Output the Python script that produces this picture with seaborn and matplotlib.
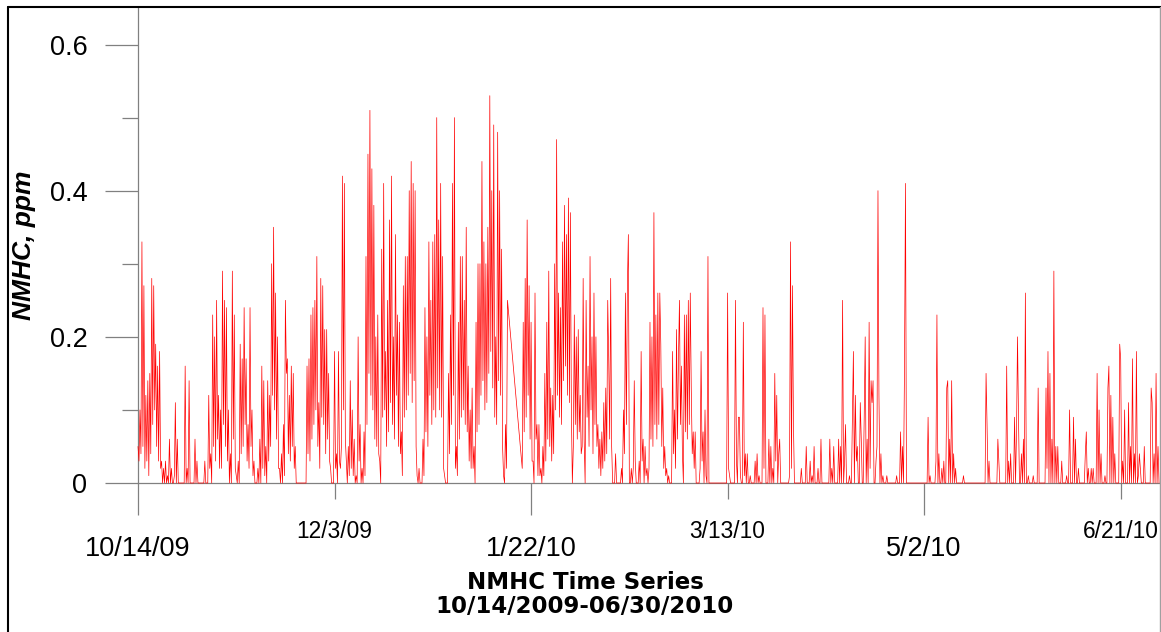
import numpy as np
import pandas as pd
import matplotlib
matplotlib.use("Agg")
import matplotlib.pyplot as plt
from matplotlib.lines import Line2D
import seaborn as sns

# NMHC concentration (ppm) at 6-hour steps, one list per month.
# None marks the stretch without valid readings in late January.
oct_2009 = [
    0.05, 0.03, 0.10, 0.04, 0.33, 0.05, 0.27, 0.02,
    0.12, 0.03, 0.14, 0.01, 0.15, 0.04, 0.28, 0.08,
    0.27, 0.10, 0.19, 0.05, 0.16, 0.03, 0.18, 0.02,
    0.03, 0, 0.02, 0, 0.03, 0, 0.01, 0,
    0.06, 0, 0.02, 0, 0, 0.01, 0.11, 0,
    0.06, 0, 0, 0, 0, 0, 0, 0,
    0.16, 0, 0.02, 0, 0.14, 0, 0, 0,
    0, 0, 0.06, 0, 0.03, 0, 0, 0,
    0, 0, 0, 0, 0.03, 0, 0, 0,
]
nov_2009 = [
    0.12, 0.02, 0.04, 0, 0.23, 0.05, 0.20, 0.03,
    0.25, 0.06, 0.12, 0.02, 0.10, 0.02, 0.29, 0.08,
    0.25, 0.05, 0.24, 0.03, 0.10, 0, 0.04, 0,
    0.29, 0.06, 0.23, 0.02, 0.01, 0, 0.03, 0,
    0.19, 0.04, 0.17, 0.05, 0.24, 0.08, 0.17, 0.03,
    0.08, 0.02, 0.24, 0.05, 0.10, 0.01, 0.03, 0,
    0, 0, 0.02, 0, 0.06, 0, 0.16, 0.02,
    0.14, 0.01, 0.05, 0, 0.14, 0.03, 0.12, 0.05,
    0.30, 0.12, 0.35, 0.10, 0.26, 0.06, 0.20, 0.02,
    0.02, 0, 0.04, 0, 0.08, 0.01, 0.25, 0.15,
    0.17, 0.04, 0.12, 0.03, 0.16, 0.05, 0.15, 0.02,
    0.05, 0, 0, 0, 0, 0, 0, 0,
    0, 0, 0, 0, 0.16, 0.04, 0.17, 0.03,
    0.23, 0.06, 0.24, 0.08, 0.25, 0.10, 0.31, 0.05,
    0.11, 0.02, 0.28, 0.09, 0.27, 0.08, 0.21, 0.04,
]
dec_2009 = [
    0.21, 0.06, 0.15, 0.03, 0.02, 0, 0, 0,
    0.18, 0.02, 0.04, 0, 0.18, 0.03, 0.02, 0.05,
    0.42, 0.10, 0.41, 0.06, 0.03, 0, 0.05, 0.01,
    0.14, 0.02, 0.10, 0.01, 0.06, 0, 0.01, 0,
    0.20, 0.03, 0.08, 0, 0.02, 0, 0.07, 0.01,
    0.31, 0.08, 0.45, 0.15, 0.51, 0.12, 0.43, 0.10,
    0.38, 0.06, 0.20, 0.05, 0.23, 0.04, 0.03, 0,
    0.32, 0.09, 0.41, 0.10, 0.18, 0.05, 0.25, 0.07,
    0.36, 0.11, 0.42, 0.08, 0.20, 0.06, 0.34, 0.12,
    0.23, 0.05, 0.22, 0.04, 0.07, 0.01, 0.27, 0.09,
    0.31, 0.10, 0.31, 0.12, 0.40, 0.15, 0.44, 0.11,
    0.41, 0.14, 0.40, 0.05, 0.01, 0, 0.02, 0,
    0, 0, 0.06, 0.01, 0.24, 0.07, 0.20, 0.05,
    0.33, 0.12, 0.25, 0.08, 0.33, 0.10, 0.34, 0.09,
    0.50, 0.13, 0.36, 0.10, 0.41, 0.09, 0.31, 0.02,
    0.01, 0, 0, 0,
]
jan_2010 = [
    0.15, 0.04, 0.23, 0.08, 0.41, 0.12, 0.50, 0.02,
    0.05, 0.01, 0.22, 0.06, 0.31, 0.09, 0.31, 0.10,
    0.25, 0.08, 0.35, 0.07, 0.16, 0.03, 0.10, 0.02,
    0.13, 0.02, 0.05, 0, 0.22, 0.07, 0.30, 0.08,
    0.30, 0.12, 0.44, 0.14, 0.33, 0.10, 0.30, 0.11,
    0.35, 0.15, 0.53, 0.18, 0.40, 0.13, 0.49, 0.09,
    0.20, 0.08, 0.48, 0.14, 0.40, 0.12, 0.32, 0.05,
    0.01, 0, 0.08, 0.02, 0.25, None, None, None,
    None, None, None, None, None, None, None, None,
    None, None, None, 0.02, 0.22, 0.07, 0.28, 0.09,
    0.36, 0.12, 0.27, 0.06, 0.22, 0.03, 0.03, 0,
    0.26, 0.06, 0.08, 0.01, 0.08, 0.01, 0.02, 0,
    0.05, 0.01, 0.15, 0.03, 0.22, 0.06, 0.29, 0.05,
    0.13, 0.03, 0.12, 0.04, 0.30, 0.10, 0.47, 0.12,
    0.26, 0.09, 0.24, 0.08, 0.33, 0.14, 0.38, 0.16,
    0.34, 0.12, 0.39, 0.11,
]
feb_2010 = [
    0.37, 0.10, 0, 0.05, 0.23, 0.08, 0.20, 0.06,
    0.21, 0.07, 0.12, 0.04, 0.05, 0.28, 0.06, 0,
    0.25, 0.09, 0.16, 0.05, 0.31, 0.10, 0.20, 0.04,
    0.26, 0.08, 0.20, 0.05, 0.08, 0.02, 0.06, 0.01,
    0.07, 0.02, 0.11, 0.03, 0.13, 0.04, 0.25, 0.17,
    0.06, 0.28, 0.05, 0, 0, 0, 0.04, 0,
    0, 0, 0, 0, 0.02, 0, 0.10, 0.04,
    0.26, 0.08, 0.27, 0.34, 0, 0, 0.02, 0,
    0.02, 0.14, 0.03, 0, 0, 0, 0.03, 0,
    0.18, 0.03, 0.06, 0, 0.05, 0.01, 0.02, 0,
    0.02, 0.22, 0.06, 0.20, 0.05, 0.37, 0.08, 0.23,
    0.06, 0.26, 0.08, 0.26, 0.19, 0.05, 0.13, 0.02,
    0.05, 0.01, 0.02, 0, 0.01, 0, 0, 0,
    0.18, 0.04, 0.10, 0.02, 0.21, 0.06, 0.17, 0.25,
]
mar_2010 = [
    0.08, 0.16, 0.04, 0, 0.23, 0.07, 0.23, 0.06,
    0.25, 0.08, 0.26, 0.13, 0.04, 0.07, 0.02, 0.07,
    0, 0, 0, 0, 0.02, 0.18, 0.03, 0.07,
    0, 0.10, 0.01, 0, 0.31, 0, 0, 0,
    0, 0, 0, 0, 0, 0, 0, 0,
    0, 0, 0, 0, 0, 0, 0, 0,
    0.26, 0.02, 0.01, 0, 0, 0, 0, 0,
    0.25, 0.03, 0, 0.09, 0.09, 0.01, 0, 0,
    0.22, 0.01, 0.04, 0, 0.04, 0, 0, 0.01,
    0, 0, 0, 0, 0.03, 0, 0.04, 0,
    0.01, 0, 0, 0, 0.24, 0.02, 0.23, 0,
    0, 0, 0.06, 0, 0.05, 0, 0.02, 0,
    0.15, 0.03, 0.12, 0, 0.04, 0.06, 0, 0,
    0, 0, 0, 0, 0, 0, 0, 0.01,
    0.33, 0.02, 0.27, 0.08, 0, 0, 0, 0,
    0, 0, 0, 0.02,
]
apr_2010 = [
    0, 0, 0, 0, 0.05, 0, 0, 0,
    0.03, 0, 0.01, 0, 0.05, 0, 0, 0,
    0.02, 0, 0, 0.06, 0, 0, 0, 0,
    0, 0, 0, 0, 0.06, 0, 0.02, 0,
    0.05, 0, 0, 0, 0, 0.06, 0, 0.05,
    0, 0.25, 0, 0.03, 0.08, 0, 0, 0,
    0.01, 0, 0, 0.09, 0.18, 0, 0.12, 0.03,
    0.05, 0, 0, 0.11, 0.06, 0, 0, 0.09,
    0.20, 0, 0.06, 0, 0.22, 0.02, 0.14, 0.11,
    0.14, 0, 0, 0.03, 0.05, 0.40, 0.12, 0,
    0.04, 0, 0.01, 0, 0, 0, 0.01, 0,
    0, 0, 0, 0, 0, 0, 0, 0,
    0.01, 0, 0, 0, 0.07, 0, 0.05, 0,
    0.16, 0.41, 0, 0, 0, 0, 0, 0,
    0, 0, 0, 0, 0, 0, 0, 0,
]
may_2010 = [
    0, 0, 0, 0, 0, 0, 0, 0,
    0.09, 0, 0.01, 0, 0, 0, 0, 0,
    0.03, 0.23, 0, 0.04, 0, 0, 0.02, 0,
    0.03, 0, 0, 0.13, 0.14, 0, 0.06, 0,
    0.14, 0, 0.04, 0, 0.02, 0, 0, 0,
    0, 0, 0, 0, 0.01, 0, 0, 0,
    0, 0, 0, 0, 0, 0, 0, 0,
    0, 0, 0, 0, 0, 0, 0, 0,
    0, 0, 0, 0.15, 0.08, 0, 0.03, 0,
    0, 0, 0, 0, 0, 0, 0, 0.06,
    0.03, 0, 0, 0, 0, 0, 0, 0,
    0.16, 0, 0.03, 0, 0.04, 0, 0, 0,
    0.09, 0, 0.07, 0.20, 0.09, 0, 0, 0.04,
    0, 0.06, 0, 0.26, 0, 0, 0.01, 0,
    0, 0, 0, 0.01, 0, 0, 0, 0,
    0.13, 0, 0, 0,
]
jun_2010 = [
    0, 0, 0, 0, 0.13, 0.02, 0.18, 0,
    0.15, 0, 0.06, 0, 0.29, 0, 0.05, 0,
    0.05, 0, 0, 0, 0.03, 0, 0, 0,
    0, 0.01, 0, 0, 0.10, 0, 0, 0,
    0.09, 0, 0.06, 0, 0, 0.02, 0, 0,
    0, 0, 0, 0, 0.04, 0.07, 0, 0.02,
    0, 0, 0.02, 0, 0.02, 0, 0, 0,
    0.15, 0, 0.10, 0, 0.04, 0, 0, 0,
    0.01, 0, 0, 0.13, 0.16, 0, 0.12, 0,
    0.09, 0, 0.04, 0, 0, 0, 0, 0.19,
    0.17, 0, 0.03, 0, 0.10, 0, 0, 0,
    0.11, 0, 0.05, 0, 0.17, 0, 0.04, 0,
    0.18, 0, 0.01, 0.04, 0.02, 0, 0, 0,
    0.05, 0, 0, 0, 0, 0, 0, 0.13,
    0.11, 0, 0.04, 0, 0.15, 0, 0.05, 0,
]

month_starts = ["2009-10-14", "2009-11-01", "2009-12-01", "2010-01-01", "2010-02-01",
                "2010-03-01", "2010-04-01", "2010-05-01", "2010-06-01"]
month_values = [oct_2009, nov_2009, dec_2009, jan_2010, feb_2010,
                mar_2010, apr_2010, may_2010, jun_2010]

major_dates = ["2009-10-14", "2010-01-22", "2010-05-02"]
major_labels = ["10/14/09", "1/22/10", "5/2/10"]
minor_dates = ["2009-12-03", "2010-03-13", "2010-06-21"]
minor_labels = ["12/3/09", "3/13/10", "6/21/10"]

y_major = [0, 0.2, 0.4, 0.6]
y_major_labels = ["0", "0.2", "0.4", "0.6"]
y_minor = [0.1, 0.3, 0.5]

frames = []
for start, vals in zip(month_starts, month_values):
    frames.append(pd.DataFrame({
        "time": pd.date_range(start, periods=len(vals), freq="6h"),
        "nmhc": np.array(vals, dtype=float),
    }))
series = pd.concat(frames, ignore_index=True).dropna()

sns.set_style("white")
plt.rcParams["font.family"] = ["Liberation Sans", "DejaVu Sans"]
plt.rcParams["text.color"] = "black"

W, H = 1161, 632
fig = plt.figure(figsize=(W / 100, H / 100), dpi=100)
ax = fig.add_axes([138 / W, (H - 483) / H, (1160 - 138) / W, (483 - 8) / H])

sns.lineplot(data=series, x="time", y="nmhc", ax=ax, color="#ff0000",
             linewidth=0.5, estimator=None, sort=False, zorder=3, clip_on=False)

ax.set_xlim(pd.Timestamp("2009-10-14"), pd.Timestamp("2010-07-01"))
ax.set_ylim(0, 0.65)

grey = "#808080"
for side in ["top", "right"]:
    ax.spines[side].set_visible(False)
for side in ["left", "bottom"]:
    ax.spines[side].set_color(grey)
    ax.spines[side].set_linewidth(0.9)

ax.set_xticks([pd.Timestamp(d) for d in major_dates], labels=major_labels)
ax.set_xticks([pd.Timestamp(d) for d in minor_dates], labels=minor_labels, minor=True)
ax.set_yticks(y_major, labels=y_major_labels)
ax.set_yticks(y_minor, minor=True)

ax.tick_params(axis="x", which="major", bottom=True, direction="out", length=23,
               width=0.9, color=grey, labelsize=19.5, pad=15, labelcolor="black")
ax.tick_params(axis="x", which="minor", bottom=True, direction="out", length=11.5,
               width=0.9, color=grey, labelsize=16.4, pad=15, labelcolor="black")
ax.tick_params(axis="y", which="major", left=True, direction="out", length=23.5,
               width=0.9, color=grey, labelsize=19.5, pad=13, labelcolor="black")
ax.tick_params(axis="y", which="minor", left=True, direction="out", length=11.5,
               width=0.9, color=grey)
ax.set_xlabel("")
ax.set_ylabel("")

# axis captions
fig.text(24 / W, 1 - 245.5 / H, "NMHC, ppm", rotation=90, ha="center", va="center",
         fontsize=19, fontweight="bold", fontstyle="italic", color="black")
fig.text(585 / W, 1 - 589 / H, "NMHC Time Series", ha="center", va="baseline",
         fontsize=16.5, fontweight="bold", family="DejaVu Sans", color="black")
fig.text(585 / W, 1 - 613 / H, "10/14/2009-06/30/2010", ha="center", va="baseline",
         fontsize=16.5, fontweight="bold", family="DejaVu Sans", color="black")

# outer frame
fig.add_artist(Line2D([7.5 / W, 7.5 / W], [0, 1 - 7 / H], color="black", lw=1.5,
                      transform=fig.transFigure))
fig.add_artist(Line2D([7.5 / W, 1], [1 - 7 / H, 1 - 7 / H], color="black", lw=1.5,
                      transform=fig.transFigure))
fig.add_artist(Line2D([1160 / W, 1160 / W], [0, 1 - 7 / H], color="#a0a0a0", lw=1,
                      transform=fig.transFigure))

fig.savefig("out.png", dpi=100)
